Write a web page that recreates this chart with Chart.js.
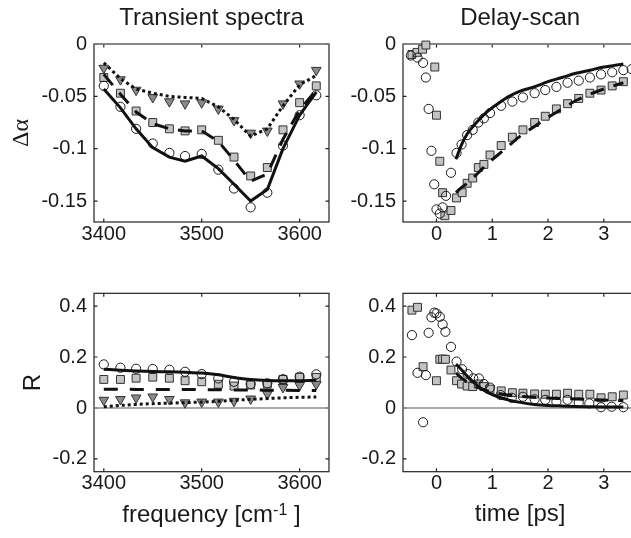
<!DOCTYPE html>
<html>
<head>
<meta charset="utf-8">
<script src="https://cdn.jsdelivr.net/npm/chart.js@4.4.1/dist/chart.umd.min.js"></script>
<style>
  html, body { margin: 0; padding: 0; background: #fff; overflow: hidden; width: 631px; height: 538px; }
  .panel { position: absolute; }
</style>
</head>
<body>
<div class="panel" style="left:0;top:0"><canvas id="specAbs" width="345" height="262"></canvas></div>
<div class="panel" style="left:320px;top:0"><canvas id="scanAbs" width="330" height="262"></canvas></div>
<div class="panel" style="left:0;top:260px"><canvas id="specAni" width="345" height="278"></canvas></div>
<div class="panel" style="left:320px;top:260px"><canvas id="scanAni" width="330" height="278"></canvas></div>
<script>
// frequency axis (cm-1), shared by both spectra panels
const freq = [3400, 3417, 3433, 3450, 3467, 3483, 3500, 3517, 3533, 3550, 3567, 3583, 3600, 3617];

// transient spectra, delta alpha
const specCircle   = [-0.040, -0.060, -0.081, -0.095, -0.104, -0.107, -0.105, -0.120, -0.138, -0.156, -0.142, -0.097, -0.068, -0.049];
const specCircleFit = [-0.043, -0.061, -0.081, -0.099, -0.108, -0.112, -0.107, -0.119, -0.134, -0.150, -0.139, -0.100, -0.068, -0.046];
const specSquare   = [-0.032, -0.047, -0.064, -0.075, -0.081, -0.083, -0.082, -0.092, -0.108, -0.126, -0.118, -0.082, -0.056, -0.040];
const specSquareFit = [-0.029, -0.048, -0.065, -0.076, -0.081, -0.083, -0.083, -0.093, -0.111, -0.131, -0.124, -0.091, -0.063, -0.044];
const specTriangle = [-0.023, -0.034, -0.044, -0.051, -0.055, -0.057, -0.056, -0.062, -0.073, -0.085, -0.083, -0.057, -0.038, -0.025];
const specTriangleFit = [-0.018, -0.033, -0.043, -0.047, -0.050, -0.051, -0.052, -0.060, -0.072, -0.088, -0.081, -0.059, -0.039, -0.030];

// transient spectra, anisotropy R
const aniCircle   = [0.171, 0.158, 0.154, 0.153, 0.150, 0.142, 0.133, 0.116, 0.103, 0.094, 0.097, 0.113, 0.123, 0.132];
const aniCircleFit = [0.152, 0.148, 0.145, 0.143, 0.142, 0.140, 0.137, 0.130, 0.120, 0.112, 0.108, 0.107, 0.107, 0.108];
const aniSquare   = [0.112, 0.112, 0.117, 0.121, 0.117, 0.107, 0.103, 0.093, 0.086, 0.090, 0.094, 0.112, 0.120, 0.120];
const aniSquareFit = [0.074, 0.074, 0.073, 0.073, 0.073, 0.073, 0.072, 0.072, 0.071, 0.071, 0.070, 0.070, 0.069, 0.069];
const aniTriangle = [0.031, 0.034, 0.040, 0.044, 0.034, 0.021, 0.024, 0.024, 0.027, 0.036, 0.055, 0.081, 0.089, 0.093];
const aniTriangleFit = [0.005, 0.010, 0.014, 0.017, 0.019, 0.021, 0.023, 0.026, 0.030, 0.034, 0.037, 0.040, 0.042, 0.043];

// delay scan, delta alpha (time in ps)
const scanCircleTime = [-0.46, -0.34, -0.24, -0.19, -0.14, -0.09, -0.04, 0.0, 0.06, 0.11, 0.17, 0.26, 0.36, 0.45, 0.55, 0.65, 0.75, 0.85, 0.96, 1.16, 1.36, 1.55, 1.76, 1.95, 2.15, 2.35, 2.55, 2.75, 2.95, 3.15, 3.35, 3.5];
const scanCircle = [-0.011, -0.013, -0.018, -0.032, -0.062, -0.102, -0.134, -0.158, -0.162, -0.156, -0.145, -0.123, -0.104, -0.096, -0.087, -0.082, -0.075, -0.071, -0.066, -0.059, -0.055, -0.051, -0.047, -0.044, -0.041, -0.037, -0.035, -0.032, -0.029, -0.027, -0.025, -0.024];
const scanSquareTime = [-0.44, -0.35, -0.25, -0.19, -0.03, 0.0, 0.06, 0.11, 0.15, 0.26, 0.36, 0.46, 0.55, 0.65, 0.75, 0.85, 0.96, 1.16, 1.36, 1.55, 1.76, 1.95, 2.15, 2.35, 2.55, 2.75, 2.95, 3.15, 3.35];
const scanSquare = [-0.010, -0.008, -0.005, -0.001, -0.022, -0.068, -0.112, -0.142, -0.164, -0.159, -0.147, -0.142, -0.133, -0.128, -0.118, -0.115, -0.106, -0.097, -0.089, -0.082, -0.075, -0.069, -0.062, -0.057, -0.052, -0.047, -0.044, -0.040, -0.036];
const fitTime = [0.35, 0.45, 0.55, 0.65, 0.75, 0.9, 1.1, 1.3, 1.5, 1.75, 2.0, 2.25, 2.5, 2.75, 3.0, 3.35];
const scanCircleFit = [-0.110, -0.096, -0.086, -0.079, -0.073, -0.065, -0.057, -0.050, -0.045, -0.041, -0.036, -0.032, -0.028, -0.025, -0.022, -0.019];
const scanSquareFit = [-0.142, -0.137, -0.133, -0.128, -0.123, -0.115, -0.106, -0.097, -0.088, -0.079, -0.070, -0.062, -0.054, -0.048, -0.043, -0.037];

// delay scan, anisotropy R
const rCircleTime = [-0.44, -0.34, -0.24, -0.19, -0.14, -0.09, -0.04, 0.0, 0.06, 0.11, 0.16, 0.26, 0.36, 0.46, 0.56, 0.66, 0.76, 0.85, 0.96, 1.15, 1.35, 1.55, 1.76, 1.95, 2.15, 2.35, 2.55, 2.74, 2.95, 3.14, 3.35];
const rCircle = [0.286, 0.138, -0.056, 0.129, 0.295, 0.356, 0.374, 0.371, 0.358, 0.328, 0.299, 0.240, 0.182, 0.152, 0.133, 0.116, 0.116, 0.094, 0.080, 0.051, 0.040, 0.044, 0.034, 0.032, 0.025, 0.032, 0.021, 0.018, 0.003, 0.005, 0.003];
const rSquareTime = [-0.44, -0.34, -0.24, 0.0, 0.06, 0.11, 0.16, 0.26, 0.36, 0.45, 0.55, 0.65, 0.75, 0.85, 0.96, 1.16, 1.36, 1.55, 1.76, 1.95, 2.15, 2.35, 2.55, 2.75, 2.95, 3.15, 3.35];
const rSquare = [0.384, 0.395, 0.162, 0.107, 0.191, 0.192, 0.191, 0.149, 0.107, 0.094, 0.086, 0.084, 0.094, 0.084, 0.074, 0.067, 0.060, 0.058, 0.055, 0.054, 0.054, 0.058, 0.054, 0.054, 0.040, 0.044, 0.051];
const rCircleFit = [0.172, 0.150, 0.125, 0.105, 0.085, 0.063, 0.044, 0.031, 0.022, 0.014, 0.010, 0.008, 0.006, 0.005, 0.004, 0.004];
const rSquareFit = [0.138, 0.118, 0.102, 0.090, 0.080, 0.068, 0.057, 0.050, 0.046, 0.042, 0.039, 0.037, 0.035, 0.033, 0.031, 0.029];

// tick labels
const freqTicks = [3400, 3500, 3600];
const timeTicks = [0, 1, 2, 3];
const alphaTicks = [0, -0.05, -0.1, -0.15];
const rTicks = [-0.2, 0, 0.2, 0.4];

const FONT = '"Liberation Sans", Arial, Helvetica, sans-serif';
const INK = '#1a1a1a';

const pts = (xs, ys) => xs.map((x, i) => ({ x: x, y: ys[i] }));

// marker and line styles
function circles(xs, ys) {
  return { data: pts(xs, ys), pointStyle: 'circle', pointRadius: 4.6, pointBackgroundColor: 'rgba(255,255,255,0)',
           pointBorderColor: INK, pointBorderWidth: 1, showLine: false, clip: false };
}
function squares(xs, ys) {
  return { data: pts(xs, ys), pointStyle: 'rect', pointRadius: 5.6, pointBackgroundColor: '#c3c3c3',
           pointBorderColor: '#333', pointBorderWidth: 1, showLine: false, clip: false };
}
function triangles(xs, ys) {
  return { data: pts(xs, ys), pointStyle: 'triangle', rotation: 180, pointRadius: 5.6, pointBackgroundColor: '#8a8a8a',
           pointBorderColor: '#333', pointBorderWidth: 1, showLine: false, clip: false };
}
function line(xs, ys, dash, smooth) {
  return { data: pts(xs, ys), showLine: true, pointRadius: 0, borderColor: '#111', borderWidth: 3,
           borderDash: dash, borderCapStyle: 'butt', cubicInterpolationMode: smooth ? 'monotone' : 'default' };
}

// box, inner tick marks and zero line, drawn the MATLAB way
const axesDecor = {
  id: 'axesDecor',
  beforeDatasetsDraw(chart) {
    const { ctx, chartArea: a, scales: { x, y } } = chart;
    ctx.save();
    ctx.strokeStyle = '#222';
    ctx.lineWidth = 1.2;
    ctx.strokeRect(a.left, a.top, a.right - a.left, a.bottom - a.top);
    ctx.beginPath();
    x.ticks.forEach(t => {
      const px = x.getPixelForValue(t.value);
      ctx.moveTo(px, a.bottom); ctx.lineTo(px, a.bottom - 3.5);
      ctx.moveTo(px, a.top); ctx.lineTo(px, a.top + 3.5);
    });
    y.ticks.forEach(t => {
      const py = y.getPixelForValue(t.value);
      ctx.moveTo(a.left, py); ctx.lineTo(a.left + 3.5, py);
      ctx.moveTo(a.right, py); ctx.lineTo(a.right - 3.5, py);
    });
    ctx.stroke();
    const y0 = y.getPixelForValue(0);
    ctx.strokeStyle = '#8c8c8c';
    ctx.lineWidth = 1.5;
    ctx.beginPath(); ctx.moveTo(a.left, y0); ctx.lineTo(a.right, y0); ctx.stroke();
    ctx.restore();
  }
};

// panel title and the frequency label with its superscript
const panelText = {
  id: 'panelText',
  afterDraw(chart, args, opts) {
    const { ctx, chartArea: a } = chart;
    const cx = (a.left + a.right) / 2;
    ctx.save();
    ctx.fillStyle = INK;
    if (opts.title) {
      ctx.font = '24px ' + FONT;
      ctx.textAlign = 'center';
      ctx.textBaseline = 'middle';
      ctx.fillText(opts.title, cx, opts.titleY);
    }
    if (opts.freqLabel) {
      const main = 'frequency [cm', sup = '-1', tail = ' ]';
      ctx.textBaseline = 'alphabetic';
      ctx.textAlign = 'left';
      ctx.font = '24px ' + FONT;
      const w1 = ctx.measureText(main).width, w3 = ctx.measureText(tail).width;
      ctx.font = '16px ' + FONT;
      const w2 = ctx.measureText(sup).width;
      let x0 = cx - (w1 + w2 + w3) / 2;
      const base = opts.labelBase;
      ctx.font = '24px ' + FONT;
      ctx.fillText(main, x0, base);
      ctx.font = '16px ' + FONT;
      ctx.fillText(sup, x0 + w1, base - 7);
      ctx.font = '24px ' + FONT;
      ctx.fillText(tail, x0 + w1 + w2, base);
    }
    ctx.restore();
  }
};

function makeScale(min, max, ticks, boxSize, title) {
  return {
    type: 'linear', min: min, max: max,
    afterBuildTicks: s => { s.ticks = ticks.map(v => ({ value: v })); },
    afterFit: s => { if (s.isHorizontal()) s.height = boxSize; else s.width = boxSize; },
    grid: { display: false, drawTicks: false },
    border: { display: false },
    ticks: { padding: 7, color: INK, font: { family: FONT, size: 20 }, maxRotation: 0, autoSkip: false,
             callback: v => String(v) },
    title: title || { display: false }
  };
}

function makePanel(id, datasets, xScale, yScale, padding, text) {
  new Chart(document.getElementById(id), {
    type: 'scatter',
    data: { datasets: datasets },
    options: {
      responsive: false,
      animation: false,
      events: [],
      devicePixelRatio: 1,
      layout: { padding: padding },
      plugins: { legend: { display: false }, tooltip: { enabled: false }, panelText: text },
      scales: { x: xScale, y: yScale }
    },
    plugins: [axesDecor, panelText]
  });
}

const alphaTitle = { display: true, text: 'Δα', color: INK, font: { family: '"Liberation Serif", "Times New Roman", serif', size: 24 }, padding: { top: 7 } };
const rTitle = { display: true, text: 'R', color: INK, font: { family: FONT, size: 24 }, padding: { top: 19 } };
const timeTitle = { display: true, text: 'time [ps]', color: INK, font: { family: FONT, size: 24 }, padding: { bottom: 9 } };

const xFreqTop = makeScale(3390, 3630, freqTicks, 40);
xFreqTop.ticks.padding = 0;
makePanel('specAbs', [
  line(freq, specCircleFit, [], false),
  line(freq, specSquareFit, [14, 10], false),
  line(freq, specTriangleFit, [3, 3], false),
  circles(freq, specCircle),
  squares(freq, specSquare),
  triangles(freq, specTriangle)
], xFreqTop, makeScale(-0.17, 0, alphaTicks, 94, alphaTitle),
   { left: 0, top: 44, right: 16, bottom: 0 }, { title: 'Transient spectra', titleY: 18 });

const xTimeTop = makeScale(-0.6, 3.6, timeTicks, 40);
xTimeTop.ticks.padding = 0;
makePanel('scanAbs', [
  line(fitTime, scanCircleFit, [], true),
  line(fitTime, scanSquareFit, [14, 10], true),
  circles(scanCircleTime, scanCircle),
  squares(scanSquareTime, scanSquare)
], xTimeTop, makeScale(-0.17, 0, alphaTicks, 83),
   { left: 0, top: 44, right: 12.7, bottom: 0 }, { title: 'Delay-scan', titleY: 18 });

const xFreqBot = makeScale(3390, 3630, freqTicks, 66.3);
xFreqBot.ticks.padding = 0;
makePanel('specAni', [
  line(freq, aniCircleFit, [], true),
  line(freq, aniSquareFit, [14, 12], false),
  line(freq, aniTriangleFit, [3, 3], false),
  circles(freq, aniCircle),
  squares(freq, aniSquare),
  triangles(freq, aniTriangle)
], xFreqBot, makeScale(-0.25, 0.45, rTicks, 94, rTitle),
   { left: 0, top: 33.3, right: 16, bottom: 0 }, { freqLabel: true, labelBase: 262 });

const xTimeBot = makeScale(-0.6, 3.6, timeTicks, 66.3, timeTitle);
xTimeBot.ticks.padding = 0;
makePanel('scanAni', [
  line(fitTime, rCircleFit, [], true),
  line(fitTime, rSquareFit, [14, 10], true),
  circles(rCircleTime, rCircle),
  squares(rSquareTime, rSquare)
], xTimeBot, makeScale(-0.25, 0.45, rTicks, 83),
   { left: 0, top: 33.3, right: 12.7, bottom: 0 }, {});
</script>
</body>
</html>
